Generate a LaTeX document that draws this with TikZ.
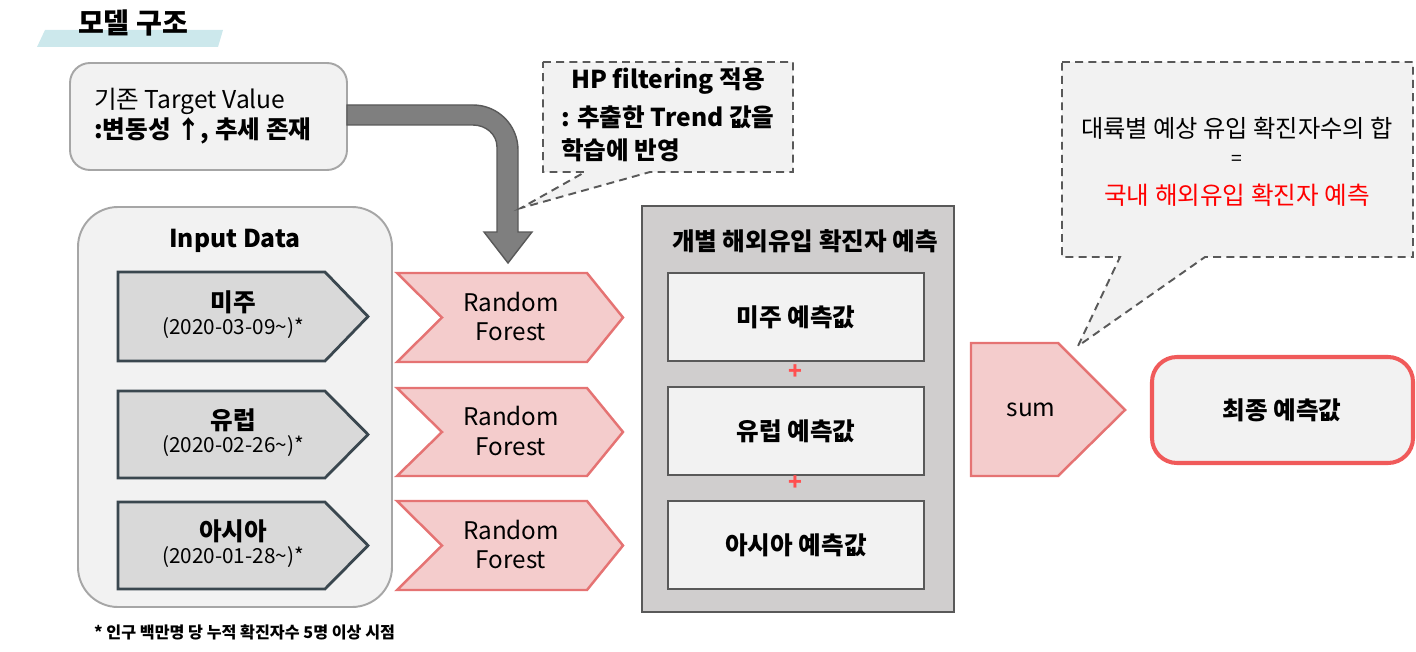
\documentclass[tikz,border=0pt]{standalone}
\usepackage{fontspec}
\setmainfont{Noto Sans CJK KR}
\usepackage{tikz}
\usetikzlibrary{positioning}
\usepackage{xcolor}

\definecolor{bandblue}{HTML}{CCE8EC}
\definecolor{boxfill}{HTML}{F2F2F2}
\definecolor{boxline}{HTML}{A6A6A6}
\definecolor{arrowfill}{HTML}{7F7F7F}
\definecolor{darkline}{HTML}{595959}
\definecolor{inputfill}{HTML}{D9D9D9}
\definecolor{inputline}{HTML}{3A474F}
\definecolor{rffill}{HTML}{F4CCCC}
\definecolor{rfline}{HTML}{E57373}
\definecolor{predfill}{HTML}{D0CECE}
\definecolor{finalline}{HTML}{F05A5A}
\definecolor{plusred}{HTML}{FF5050}

\tikzset{
  bigtext/.style={font=\fontsize{14}{17}\selectfont},
  boldtext/.style={font=\fontsize{14}{17}\selectfont\bfseries},
  datetext/.style={font=\fontsize{11.8}{14}\selectfont},
  calloutbox/.style={draw=darkline, fill=boxfill, dash pattern=on 4.5pt off 3pt, line width=1.1pt},
}

\begin{document}
\begin{tikzpicture}[x=0.02cm, y=-0.02cm]
			\useasboundingbox (0,0) rectangle (1416,652);
			% Title
			\fill[bandblue] (45,30) -- (223,30) -- (218,47) -- (37,47) -- cycle;
			\node[font=\fontsize{16}{19}\selectfont\bfseries] (title) at (133,23) {모델 구조};
			% Original target value
			\draw[boxline, fill=boxfill, line width=1.1pt, rounded corners=0.4cm] (70,63) rectangle (347,170);
			\node[bigtext, anchor=west] (orig1) at (88,101) {기존 Target Value};
			\node[boldtext, anchor=west] (orig2) at (88,131) {:변동성 ↑, 추세 존재};
			% Big bent arrow
			\filldraw[fill=arrowfill, draw=darkline, line width=0.8pt]
				(347,105) -- (473,105) to[out=0, in=90] (518,150) -- (518,232) -- (532,232)
				-- (508,263) -- (484,232) -- (497,232) -- (497,147) to[out=90, in=0] (473,125)
				-- (347,125) -- cycle;
			% HP filtering callout
			\path[calloutbox] (543,62) -- (793,62) -- (793,172) -- (650,172) -- (521,208)
				-- (585,172) -- (543,172) -- cycle;
			\node[boldtext] (hp1) at (668,81) {HP filtering 적용};
			\node[boldtext, anchor=west] (hp2) at (555,117) {: 추출한 Trend 값을};
			\node[boldtext, anchor=west] (hp3) at (555,150) {학습에 반영};
			% Input Data
			\draw[boxline, fill=boxfill, line width=1.1pt, rounded corners=0.8cm] (78,207) rectangle (392,607);
			\node[boldtext] (inputtitle) at (235,241) {Input Data};
			\foreach \t/\b/\n/\d/\i in {272/361/미주/2020-03-09/1, 391/478/유럽/2020-02-26/2, 502/589/아시아/2020-01-28/3} {
					\filldraw[fill=inputfill, draw=inputline, line width=1.6pt]
						(118,\t) -- (325,\t) -- (368,{(\t+\b)/2}) -- (325,\b) -- (118,\b) -- cycle;
					\node[boldtext] (region\i) at (233,{(\t+\b)/2-14}) {\n};
					\node[datetext] (date\i) at (233,{(\t+\b)/2+12}) {(\d\textasciitilde)*};
				}
			% Random Forest
			\foreach \t/\b/\i in {273/362/1, 388/476/2, 501/590/3} {
					\filldraw[fill=rffill, draw=rfline, line width=1.4pt]
						(397,\t) -- (587,\t) -- (623,{(\t+\b)/2}) -- (587,\b) -- (397,\b) -- (442,{(\t+\b)/2}) -- cycle;
					\node[font=\fontsize{13.8}{17}\selectfont, align=center] (rf\i) at (511,{(\t+\b)/2-1}) {Random\\Forest};
				}
			% Individual predictions
			\filldraw[fill=predfill, draw=darkline, line width=1.1pt] (642,206) rectangle (954,612);
			\node[boldtext] (predtitle) at (805,241) {개별 해외유입 확진자 예측};
			\foreach \t/\b/\n/\i in {273/361/미주/1, 387/475/유럽/2, 501/589/아시아/3} {
					\filldraw[fill=boxfill, draw=darkline, line width=1.1pt] (668,\t) rectangle (924,\b);
					\node[boldtext] (pred\i) at (796,{(\t+\b)/2}) {\n\ 예측값};
				}
			\node[plusred, font=\fontsize{13}{15}\selectfont\bfseries] (plus1) at (795,372) {+};
			\node[plusred, font=\fontsize{13}{15}\selectfont\bfseries] (plus2) at (795,483) {+};
			% Sum
			\filldraw[fill=rffill, draw=rfline, line width=1.4pt]
				(971,343) -- (1058,343) -- (1125,410) -- (1058,476) -- (971,476) -- cycle;
			\node[font=\fontsize{13.9}{16}\selectfont] (sum) at (1031,410) {sum};
			% Final prediction
			\draw[finalline, fill=boxfill, line width=2.3pt, rounded corners=0.5cm] (1152,357) rectangle (1413,463);
			\node[boldtext] (final) at (1282,410) {최종 예측값};
			% Sum callout
			\path[calloutbox] (1062,62) -- (1413,62) -- (1413,257) -- (1205,257) -- (1078,346)
				-- (1120,257) -- (1062,257) -- cycle;
			\node[font=\fontsize{13.8}{16}\selectfont] (sumnote1) at (1237,128) {대륙별 예상 유입 확진자수의 합};
			\node[font=\fontsize{11}{13}\selectfont] (sumnote2) at (1237,160) {=};
			\node[red, font=\fontsize{14}{17}\selectfont] (sumnote3) at (1237,195) {국내 해외유입 확진자 예측};
			% Footnote
			\node[anchor=west, font=\fontsize{9.2}{11}\selectfont\bfseries] (footnote) at (88,632) {* 인구 백만명 당 누적 확진자수 5명 이상 시점};
		\end{tikzpicture}
\end{document}
